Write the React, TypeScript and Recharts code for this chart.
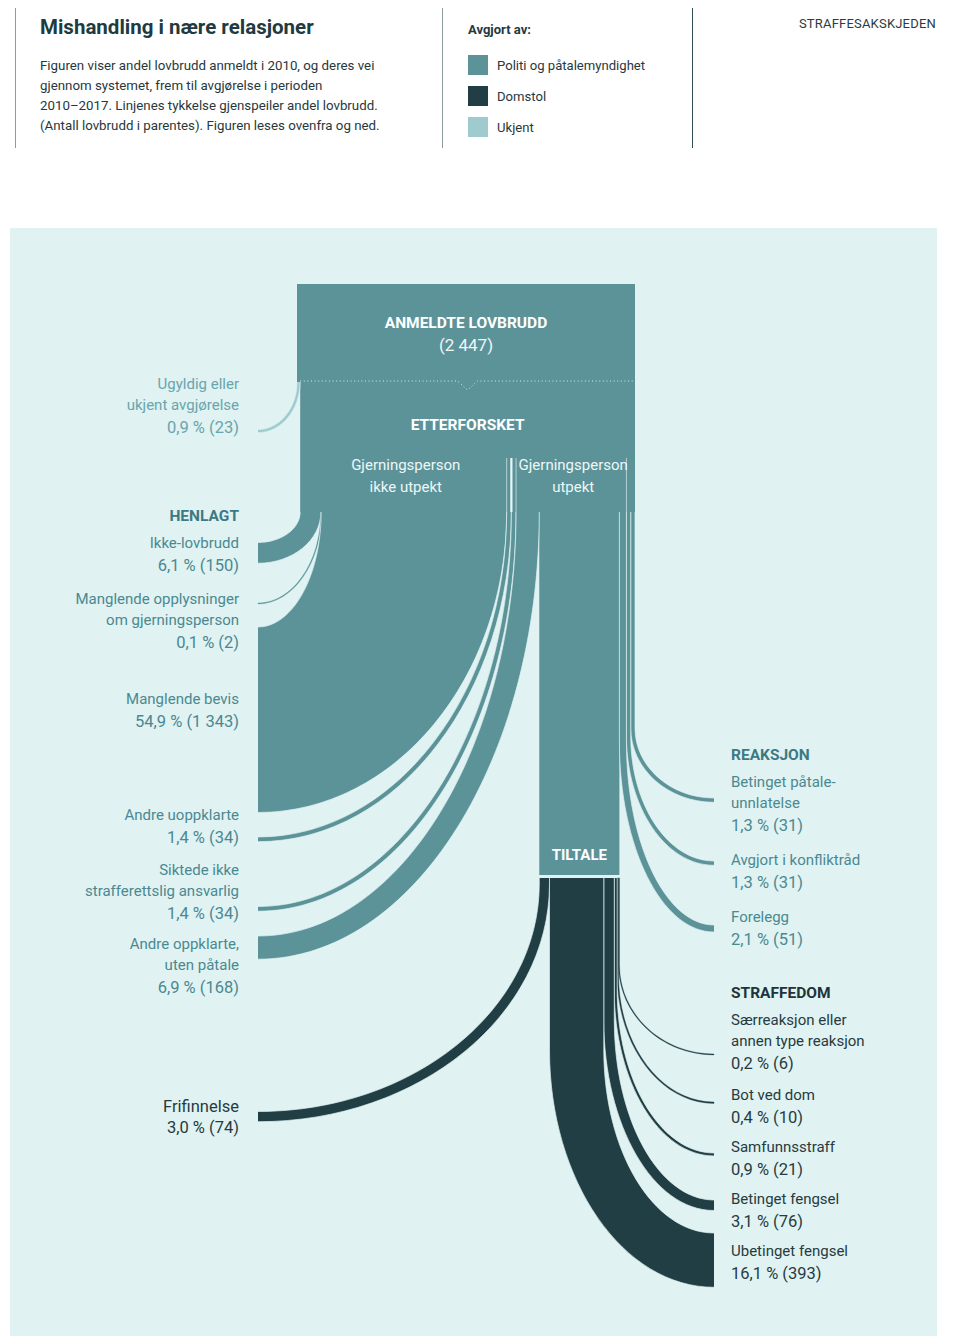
import React from 'react'
import { ComposedChart, XAxis, YAxis, Scatter, ReferenceArea } from 'recharts'

// ---- data ----
const TOTAL = 2447

const leftNames = [
    ['Ugyldig eller', 'ukjent avgjørelse'],
    ['Ikke-lovbrudd'],
    ['Manglende opplysninger', 'om gjerningsperson'],
    ['Manglende bevis'],
    ['Andre uoppklarte'],
    ['Siktede ikke ', 'strafferettslig ansvarlig'],
    ['Andre oppklarte,', 'uten påtale'],
    ['Frifinnelse'],
]
const leftCounts = [23, 150, 2, 1343, 34, 34, 168, 74]
const leftDecidedBy = ['ukjent', 'politi', 'politi', 'politi', 'politi', 'politi', 'politi', 'domstol']
const leftHeadings = ['', 'HENLAGT', '', '', '', '', '', '']

const rightNames = [
    ['Betinget påtale-', 'unnlatelse'],
    ['Avgjort i konfliktråd'],
    ['Forelegg'],
    ['Særreaksjon eller', 'annen type reaksjon'],
    ['Bot ved dom'],
    ['Samfunnsstraff'],
    ['Betinget fengsel'],
    ['Ubetinget fengsel'],
]
const rightCounts = [31, 31, 51, 6, 10, 21, 76, 393]
const rightDecidedBy = ['politi', 'politi', 'politi', 'domstol', 'domstol', 'domstol', 'domstol', 'domstol']
const rightHeadings = ['REAKSJON', '', '', 'STRAFFEDOM', '', '', '', '']

const legendKeys = ['politi', 'domstol', 'ukjent']
const legendNames = ['Politi og påtalemyndighet', 'Domstol', 'Ukjent']

// ---- layout (pixel rows of the figure, y axis runs 1:1 over the page) ----
const leftStartY = [382, 512, 512, 512, 512, 512, 512, 878]
const leftCurveY = [382, 512, 512, 512, 512, 512, 512, 884]
const leftEndY = [429.5, 542.5, 603, 627, 837, 906.5, 936, 1111.5]
const leftLabelY = [389, 548, 604, 704, 820, 875, 949, 1112]
const leftNameSize = [15, 15, 15, 15, 15, 15, 15, 16.5]

const rightStartY = [512, 512, 512, 878, 878, 878, 878, 878]
const rightCurveY = [728, 736, 742, 965, 975, 990, 1020, 1050]
const rightEndY = [798, 861, 925, 1054, 1102, 1153, 1200, 1233]
const rightLabelY = [787, 865, 922, 1025, 1100, 1152, 1204, 1256]
const rightNameSize = [15, 15, 15, 15, 15, 15, 15, 15]

const W = 955
const H = 1336
const MARGIN = { top: 0, right: 320, bottom: 0, left: 297 }
const PX_PER_COUNT = (W - MARGIN.left - MARGIN.right) / TOTAL
const PX_PER_Y = (H - MARGIN.top - MARGIN.bottom) / H
const LEFT_END_X = 258
const RIGHT_END_X = 714
const LEFT_LABEL_X = 239
const RIGHT_LABEL_X = 731
const KAPPA = 0.5523

const PANEL = '#e0f2f2'
const FONT = 'Roboto, sans-serif'
const fills: Record<string, string> = { politi: '#5b9399', domstol: '#213e45', ukjent: '#9fcbcf' }
const textColors: Record<string, string> = { politi: '#4a8991', domstol: '#263b40', ukjent: '#6aa5ad' }
const headingColors: Record<string, string> = { politi: '#3c7a83', domstol: '#1f3439', ukjent: '#6aa5ad' }

const fmt = (n: number) => String(n).replace(/\B(?=(\d{3})+(?!\d))/g, ' ')
const pct = (n: number) => (n / TOTAL * 100).toFixed(1).replace('.', ',')
const sum = (a: number[]) => a.reduce((s, v) => s + v, 0)

// stacking across the trunk: left flows left-to-right, then right flows from the inside out
const stack: { side: 'left' | 'right'; i: number }[] = [
    ...leftCounts.map((_, i) => ({ side: 'left' as const, i })),
    ...rightCounts.map((_, i) => ({ side: 'right' as const, i })).reverse(),
]
const startOf: Record<string, number> = {}
let acc = 0
stack.forEach(s => {
    startOf[s.side + s.i] = acc
    acc += s.side === 'left' ? leftCounts[s.i] : rightCounts[s.i]
})

const flowPoints = [
    ...leftCounts.map((count, i) => ({
        x: startOf['left' + i], y: leftCurveY[i], side: 'left', count,
        startY: leftStartY[i], curveY: leftCurveY[i], endY: leftEndY[i], labelY: leftLabelY[i],
        names: leftNames[i], nameSize: leftNameSize[i], heading: leftHeadings[i], by: leftDecidedBy[i],
    })),
    ...rightCounts.map((count, i) => ({
        x: startOf['right' + i], y: rightCurveY[i], side: 'right', count,
        startY: rightStartY[i], curveY: rightCurveY[i], endY: rightEndY[i], labelY: rightLabelY[i],
        names: rightNames[i], nameSize: rightNameSize[i], heading: rightHeadings[i], by: rightDecidedBy[i],
    })),
]

const unknown = leftCounts[0]
const notIdentified = sum(leftCounts.slice(1, 5))
const identifiedStart = unknown + notIdentified
const chargedStart = identifiedStart + leftCounts[5] + leftCounts[6]
const charged = leftCounts[7] + sum(rightCounts.slice(3))

const stagePoints = [
    { x: TOTAL / 2, y: 328, lines: [{ t: 'ANMELDTE LOVBRUDD', bold: true, size: 15.5, dy: 0 }, { t: `(${fmt(TOTAL)})`, bold: false, size: 17, dy: 23 }] },
    { x: (unknown + TOTAL) / 2, y: 430, lines: [{ t: 'ETTERFORSKET', bold: true, size: 15.5, dy: 0 }] },
    { x: unknown + notIdentified / 2, y: 470, lines: [{ t: 'Gjerningsperson', bold: false, size: 15, dy: 0 }, { t: 'ikke utpekt', bold: false, size: 15, dy: 22 }] },
    { x: (identifiedStart + TOTAL) / 2, y: 470, lines: [{ t: 'Gjerningsperson', bold: false, size: 15, dy: 0 }, { t: 'utpekt', bold: false, size: 15, dy: 22 }] },
    { x: chargedStart + charged / 2, y: 860, lines: [{ t: 'TILTALE', bold: true, size: 15, dy: 0 }] },
]

const decorPoints = [
    { x: unknown, y: 381, kind: 'dots', to: TOTAL },
    { x: unknown + sum(leftCounts.slice(1, 4)), y: 458, kind: 'sep', len: 54, width: 0.8 },
    { x: identifiedStart, y: 458, kind: 'sep', len: 54, width: 2.2 },
    { x: identifiedStart + leftCounts[5], y: 458, kind: 'sep', len: 54, width: 0.8 },
    { x: chargedStart + charged + rightCounts[2], y: 458, kind: 'sep', len: 54, width: 0.8 },
]

function FlowShape(props: any) {
    const { cx, cy, payload: p } = props
    if (cx == null || cy == null) return <g />
    const w = Math.max(p.count * PX_PER_COUNT, 0.9)
    const y0 = cy
    const yTop = cy - (p.curveY - p.startY) * PX_PER_Y
    const ye = cy + (p.endY - p.curveY) * PX_PER_Y
    const a = cx
    const b = cx + w
    let body = ''
    let edges = ''
    if (p.side === 'left') {
        const xe = LEFT_END_X
        const inner = `M${a},${yTop} L${a},${y0} C${a},${y0 + KAPPA * (ye - y0)} ${xe + KAPPA * (a - xe)},${ye} ${xe},${ye}`
        const outerBack = `C${xe + KAPPA * (b - xe)},${ye + w} ${b},${y0 + KAPPA * (ye + w - y0)} ${b},${y0} L${b},${yTop}`
        body = `${inner} L${xe},${ye + w} ${outerBack} Z`
        edges = `${inner} M${xe},${ye + w} ${outerBack}`
    } else {
        const xe = RIGHT_END_X
        const inner = `M${b},${yTop} L${b},${y0} C${b},${y0 + KAPPA * (ye - y0)} ${xe - KAPPA * (xe - b)},${ye} ${xe},${ye}`
        const outerBack = `C${xe - KAPPA * (xe - a)},${ye + w} ${a},${y0 + KAPPA * (ye + w - y0)} ${a},${y0} L${a},${yTop}`
        body = `${inner} L${xe},${ye + w} ${outerBack} Z`
        edges = `${inner} M${xe},${ye + w} ${outerBack}`
    }
    const fill = fills[p.by]
    const color = textColors[p.by]
    const left = p.side === 'left'
    const lx = left ? LEFT_LABEL_X : RIGHT_LABEL_X
    const anchor = left ? 'end' : 'start'
    const ly = cy + (p.labelY - p.curveY) * PX_PER_Y
    const names: string[] = p.names
    const numY = ly + (names.length - 1) * 20.5 + (p.nameSize > 15 ? 21 : 23)
    return (
        <g>
            <path d={body} fill={fill} stroke={w < 2 ? fill : 'none'} strokeWidth={w < 2 ? 0.35 : 0} />
            {w >= 2 && <path d={edges} fill="none" stroke={PANEL} strokeWidth={0.7} />}
            {p.heading && (
                <text x={lx} y={ly - 27} textAnchor={anchor} fontFamily={FONT} fontSize={15.5} fontWeight={700}
                    fill={headingColors[p.by]}>{p.heading}</text>
            )}
            {names.map((n, k) => (
                <text key={k} x={lx} y={ly + k * 20.5} textAnchor={anchor} fontFamily={FONT} fontSize={p.nameSize}
                    fill={color}>{n}</text>
            ))}
            <text x={lx} y={numY} textAnchor={anchor} fontFamily={FONT} fontSize={16.5} fill={color}>
                {`${pct(p.count)} % (${fmt(p.count)})`}
            </text>
        </g>
    )
}

function StageShape(props: any) {
    const { cx, cy, payload: p } = props
    if (cx == null || cy == null) return <g />
    return (
        <g>
            {p.lines.map((l: any, k: number) => (
                <text key={k} x={cx} y={cy + l.dy} textAnchor="middle" fontFamily={FONT} fontSize={l.size}
                    fontWeight={l.bold ? 700 : 400} fill={l.bold ? '#ffffff' : '#eef7f7'}>{l.t}</text>
            ))}
        </g>
    )
}

function DecorShape(props: any) {
    const { cx, cy, payload: p } = props
    if (cx == null || cy == null) return <g />
    if (p.kind === 'dots') {
        const x2 = cx + (p.to - p.x) * PX_PER_COUNT
        const mid = (cx + x2) / 2
        const pts = `${cx},${cy} ${mid - 10},${cy} ${mid},${cy + 9} ${mid + 10},${cy} ${x2},${cy}`
        return <polyline points={pts} fill="none" stroke="#d6ecee" strokeWidth={1} strokeDasharray="1 2.6" />
    }
    return <line x1={cx} y1={cy} x2={cx} y2={cy + p.len * PX_PER_Y} stroke={p.width > 1 ? '#eaf6f6' : '#c9e2e4'} strokeWidth={p.width} />
}

function Header() {
    const line = (x: number, c: string) => (
        <div style={{ position: 'absolute', left: x, top: 8, width: 1, height: 140, background: c }} />
    )
    const desc = [
        'Figuren viser andel lovbrudd anmeldt i 2010, og deres vei',
        'gjennom systemet, frem til avgjørelse i perioden',
        '2010–2017. Linjenes tykkelse gjenspeiler andel lovbrudd.',
        '(Antall lovbrudd i parentes). Figuren leses ovenfra og ned.',
    ]
    return (
        <>
            {line(15, '#8d9c9f')}
            {line(442, '#8d9c9f')}
            {line(692, '#2f4f55')}
            <div style={{ position: 'absolute', left: 40, top: 14, fontSize: 20.5, lineHeight: '26px', fontWeight: 700, color: '#1f3a40', whiteSpace: 'nowrap' }}>
                Mishandling i nære relasjoner
            </div>
            {desc.map((d, i) => (
                <div key={i} style={{ position: 'absolute', left: 40, top: 56 + i * 20, fontSize: 13.3, lineHeight: '20px', color: '#27383c', whiteSpace: 'nowrap' }}>{d}</div>
            ))}
            <div style={{ position: 'absolute', left: 468, top: 20, fontSize: 13, lineHeight: '20px', fontWeight: 700, color: '#27383c' }}>Avgjort av:</div>
            {legendKeys.map((k, i) => (
                <React.Fragment key={k}>
                    <div style={{ position: 'absolute', left: 468, top: 55 + i * 31, width: 20, height: 20, background: fills[k] }} />
                    <div style={{ position: 'absolute', left: 497, top: 56 + i * 31, fontSize: 13.1, lineHeight: '20px', color: '#27383c', whiteSpace: 'nowrap' }}>{legendNames[i]}</div>
                </React.Fragment>
            ))}
            <div style={{ position: 'absolute', right: 19, top: 14, fontSize: 13, lineHeight: '20px', color: '#2b3b3f', letterSpacing: 0.2 }}>STRAFFESAKSKJEDEN</div>
        </>
    )
}

export default function App() {
    return (
        <div style={{ position: 'absolute', left: 0, top: 0, width: W, height: H, background: '#ffffff', fontFamily: FONT, overflow: 'hidden' }}>
            <Header />
            <div style={{ position: 'absolute', left: 10, top: 228, width: 927, height: H - 228, background: PANEL }} />
            <div style={{ position: 'absolute', left: 0, top: 0 }}>
                <ComposedChart width={W} height={H} margin={MARGIN}>
                    <XAxis type="number" dataKey="x" domain={[0, TOTAL]} hide />
                    <YAxis type="number" dataKey="y" domain={[0, H]} reversed hide />
                    <ReferenceArea x1={0} x2={TOTAL} y1={284} y2={382} fill={fills.politi} fillOpacity={1} stroke="none" />
                    <ReferenceArea x1={unknown} x2={TOTAL} y1={382} y2={512} fill={fills.politi} fillOpacity={1} stroke="none" />
                    <ReferenceArea x1={chargedStart} x2={chargedStart + charged} y1={512} y2={875} fill={fills.politi} fillOpacity={1} stroke="none" />
                    <Scatter data={flowPoints} shape={(p: any) => <FlowShape {...p} />} isAnimationActive={false} />
                    <Scatter data={decorPoints} shape={(p: any) => <DecorShape {...p} />} isAnimationActive={false} />
                    <Scatter data={stagePoints} shape={(p: any) => <StageShape {...p} />} isAnimationActive={false} />
                </ComposedChart>
            </div>
        </div>
    )
}
